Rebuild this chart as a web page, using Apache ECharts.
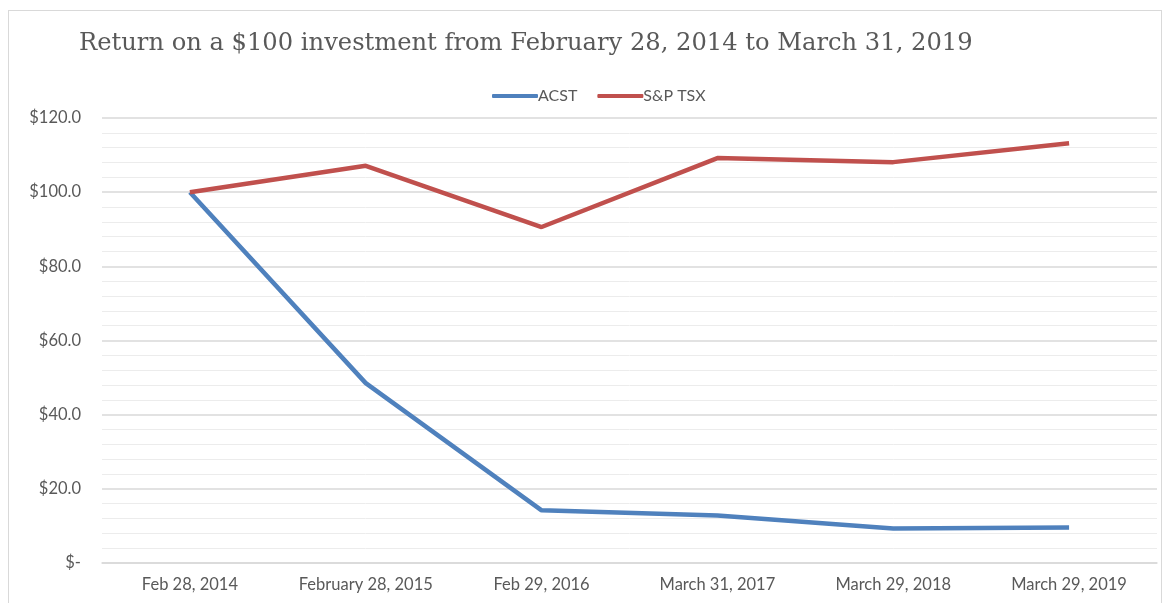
<!DOCTYPE html>
<html>
<head>
<meta charset="utf-8">
<script src="https://cdn.jsdelivr.net/npm/echarts@6/dist/echarts.min.js"></script>
<style>
  html, body { margin: 0; padding: 0; background: #fff; }
  #frame { position: absolute; left: 8px; top: 10px; width: 1154px; height: 600px; border: 1px solid #d9d9d9; border-bottom: none; box-sizing: border-box; }
  #chart { position: absolute; left: 0; top: 0; width: 1166px; height: 603px; }
</style>
</head>
<body>
<div id="frame"></div>
<div id="chart"></div>
<script>
  const categories = ['Feb 28, 2014', 'February 28, 2015', 'Feb 29, 2016', 'March 31, 2017', 'March 29, 2018', 'March 29, 2019'];
  const acst = [100, 48.5, 14.2, 12.8, 9.3, 9.6];
  const tsx = [100, 107.1, 90.6, 109.2, 108.1, 113.2];

  const myChart = echarts.init(document.getElementById('chart'));
  const option = {
    animation: false,
    title: {
      text: 'Return on a $100 investment from February 28, 2014 to March 31, 2019',
      left: 74,
      top: 27,
      textStyle: { fontFamily: 'DejaVu Serif', fontWeight: 'normal', fontSize: 24.2, color: '#595959' }
    },
    legend: {
      top: 83,
      left: 487,
      itemWidth: 46,
      itemHeight: 4,
      itemGap: 20,
      icon: 'roundRect',
      textStyle: { fontFamily: 'Lato', fontSize: 16, color: '#595959', padding: [0, 0, 0, -5] },
      data: ['ACST', 'S&P TSX']
    },
    grid: { left: 102, right: 9, top: 118, bottom: 40 },
    xAxis: {
      type: 'category',
      data: categories,
      boundaryGap: true,
      axisLine: { lineStyle: { color: '#d9d9d9', width: 1.5 } },
      axisTick: { show: false },
      axisLabel: { fontFamily: 'Lato', fontSize: 16.5, color: '#595959', margin: 13 }
    },
    yAxis: {
      type: 'value',
      min: 0,
      max: 120,
      interval: 20,
      axisLine: { show: false },
      axisTick: { show: false },
      axisLabel: {
        fontFamily: 'Lato', fontSize: 16.5, color: '#595959', margin: 21,
        formatter: function (v) { return v === 0 ? '$-' : '$' + v.toFixed(1); }
      },
      splitLine: { lineStyle: { color: '#d9d9d9', width: 1.5 } },
      minorTick: { show: false, splitNumber: 5 },
      minorSplitLine: { show: true, lineStyle: { color: '#ececec', width: 1 } }
    },
    series: [
      { name: 'ACST', type: 'line', data: acst, symbol: 'none', lineStyle: { color: '#4f81bd', width: 4.5 }, itemStyle: { color: '#4f81bd' } },
      { name: 'S&P TSX', type: 'line', data: tsx, symbol: 'none', lineStyle: { color: '#c0504d', width: 4.5 }, itemStyle: { color: '#c0504d' } }
    ]
  };
  myChart.setOption(option);
  window.addEventListener('resize', function () {
    myChart.resize();
  });
</script>
</body>
</html>
